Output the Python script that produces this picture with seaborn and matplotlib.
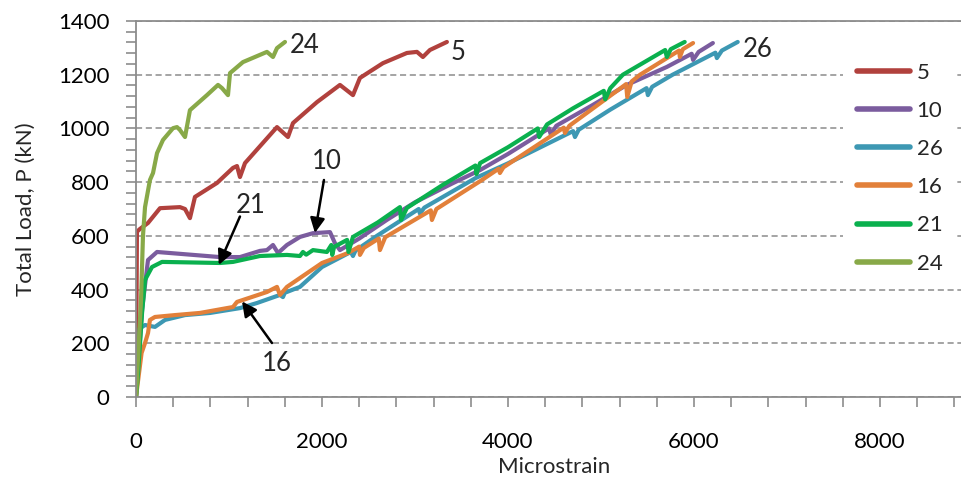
import matplotlib
matplotlib.use("Agg")
import matplotlib.pyplot as plt
from matplotlib.ticker import MultipleLocator
import numpy as np
import pandas as pd
import seaborn as sns

# ---- load-strain readings per gauge (microstrain, kN) ----
g5_strain = [0, 10, 40, 129, 258, 473, 527, 580, 634, 871, 1043, 1086, 1118, 1172, 1516, 1634, 1688,
             1946, 2193, 2333, 2408, 2655, 2913, 3021, 3085, 3160, 3343]
g5_load = [0, 615, 625, 648, 703, 707, 700, 666, 745, 797, 853, 860, 819, 871, 1005, 968, 1020,
           1098, 1162, 1124, 1188, 1243, 1281, 1285, 1266, 1292, 1322]

g10_strain = [0, 30, 65, 129, 226, 903, 1118, 1333, 1408, 1473, 1527, 1623, 1763, 1903, 2086, 2139,
              2193, 2400, 2700, 3000, 3400, 3700, 4000, 4440, 4460, 4520, 4900, 5278, 5708,
              5975, 5990, 6050, 6203]
g10_load = [0, 150, 324, 510, 540, 521, 521, 544, 547, 566, 536, 566, 596, 610, 614, 573,
            547, 590, 660, 725, 795, 845, 905, 1000, 978, 1010, 1085, 1162, 1229,
            1278, 1255, 1285, 1318]

g26_strain = [0, 20, 40, 97, 204, 312, 527, 796, 1118, 1301, 1548, 1580, 1600, 1763, 2000, 2310,
              2333, 2360, 2590, 3040, 3053, 3100, 3650, 4000, 4700, 4720, 4760, 5100, 5490, 5504,
              5550, 5770, 6230, 6246, 6300, 6470]
g26_load = [0, 120, 255, 268, 261, 287, 305, 313, 331, 350, 380, 372, 388, 410, 484, 540,
            525, 545, 600, 700, 683, 705, 815, 870, 990, 968, 995, 1070, 1150, 1124,
            1155, 1200, 1282, 1262, 1290, 1322]

g16_strain = [0, 60, 97, 129, 150, 204, 419, 688, 978, 1043, 1086, 1408, 1516, 1548, 1623, 2000,
              2279, 2400, 2408, 2450, 2610, 2623, 2680, 3170, 3182, 3230, 3720, 3900, 3913,
              3950, 4600, 4612, 4660, 5270, 5282, 5330, 5420, 5840, 5848, 5880, 5990]
g16_load = [0, 164, 201, 238, 287, 298, 305, 313, 331, 335, 354, 391, 410, 380, 410, 499,
            536, 560, 529, 555, 590, 547, 595, 695, 659, 700, 808, 850, 834,
            855, 1003, 983, 1010, 1165, 1117, 1175, 1200, 1290, 1266, 1295, 1318]

g21_strain = [0, 22, 65, 97, 172, 280, 903, 1043, 1333, 1623, 1763, 1795, 1830, 1903, 2053, 2100,
              2110, 2130, 2270, 2285, 2333, 2600, 2838, 2850, 2913, 3300, 3650, 3660, 3700,
              4000, 4320, 4335, 4420, 4700, 5030, 5045, 5100, 5235, 5690, 5708, 5750, 5900]
g21_load = [0, 89, 313, 436, 484, 503, 499, 503, 525, 529, 525, 540, 530, 547, 540, 566,
            529, 559, 585, 540, 596, 650, 707, 659, 704, 790, 862, 830, 871,
            930, 1000, 968, 1015, 1075, 1140, 1108, 1150, 1200, 1292, 1266, 1295, 1322]

g24_strain = [0, 30, 54, 75, 97, 150, 183, 226, 290, 398, 441, 473, 527, 580, 763, 882, 925,
              989, 1011, 1150, 1408, 1473, 1516, 1602]
g24_load = [0, 200, 361, 600, 707, 808, 834, 908, 957, 1001, 1005, 994, 968, 1068, 1124, 1162, 1150,
            1124, 1206, 1247, 1285, 1266, 1299, 1322]

gauges = ["5", "10", "26", "16", "21", "24"]
colors = ["#B1413D", "#7B5C9E", "#3D98B3", "#E2803A", "#0AB04E", "#88A948"]

series = {
    "5": (g5_strain, g5_load),
    "10": (g10_strain, g10_load),
    "26": (g26_strain, g26_load),
    "16": (g16_strain, g16_load),
    "21": (g21_strain, g21_load),
    "24": (g24_strain, g24_load),
}

frames = []
for name in gauges:
    xs, ys = series[name]
    frames.append(pd.DataFrame({"strain": xs, "load": ys, "gauge": name}))
df = pd.concat(frames, ignore_index=True)

sns.set_style("white")
plt.rcParams["font.family"] = ["Lato", "DejaVu Sans"]

fig = plt.figure(figsize=(9.61, 4.83), dpi=100)
ax = fig.add_axes([136 / 961, 86 / 483, 837 / 961, 376 / 483])

grid_gray = "#8C8C8C"
ax.set_axisbelow(True)
ax.yaxis.grid(True, linestyle=(0, (4, 2.4)), color=grid_gray, linewidth=1.1)
ax.xaxis.grid(False)

sns.lineplot(data=df, x="strain", y="load", hue="gauge", hue_order=gauges,
             palette=dict(zip(gauges, colors)), sort=False, estimator=None,
             units="gauge", linewidth=3.0, ax=ax, legend=True)
for line in ax.get_lines():
    line.set_solid_joinstyle("round")
    line.set_solid_capstyle("round")

ax.set_xlim(0, 9000)
ax.set_ylim(0, 1400)
ax.xaxis.set_major_locator(MultipleLocator(2000))
ax.xaxis.set_minor_locator(MultipleLocator(400))
ax.yaxis.set_major_locator(MultipleLocator(200))
ax.yaxis.set_minor_locator(MultipleLocator(40))

for side in ["left", "bottom", "top"]:
    ax.spines[side].set_visible(True)
    ax.spines[side].set_color(grid_gray)
    ax.spines[side].set_linewidth(1.3)
ax.spines["right"].set_visible(False)

ax.tick_params(axis="both", which="both", direction="out", color=grid_gray,
               width=1.2, length=7, labelsize=16, labelcolor="black")
ax.tick_params(axis="x", which="both", pad=18, bottom=True)
ax.tick_params(axis="y", which="both", pad=12, left=True)

ax.set_xlabel("Microstrain", fontsize=16, labelpad=4)
ax.set_ylabel("Total Load, P (kN)", fontsize=16, labelpad=16)

handles, labels = ax.get_legend_handles_labels()
leg = ax.legend(handles, labels, loc="upper left", bbox_to_anchor=(0.845, 0.925),
                frameon=True, fontsize=16, handlelength=2.4, handletextpad=0.3,
                labelspacing=0.82, borderpad=0.6, borderaxespad=0)
leg.get_frame().set_facecolor("white")
leg.get_frame().set_edgecolor("none")
leg.get_frame().set_alpha(1)
for line in leg.get_lines():
    line.set_linewidth(4)
    line.set_solid_capstyle("round")

# curve labels
ax.text(1650, 1307, "24", fontsize=18.5, ha="left", va="center")
ax.text(3380, 1282, "5", fontsize=18.5, ha="left", va="center")
ax.text(6520, 1294, "26", fontsize=18.5, ha="left", va="center")
ax.text(2050, 877, "10", fontsize=18.5, ha="center", va="center")
ax.text(1230, 713, "21", fontsize=18.5, ha="center", va="center")
ax.text(1516, 123, "16", fontsize=18.5, ha="center", va="center")

arrow = dict(arrowstyle="-|>", color="black", lw=1.8, mutation_scale=22, shrinkA=0, shrinkB=0)
ax.annotate("", xy=(1924, 611), xytext=(2021, 808), arrowprops=arrow)
ax.annotate("", xy=(890, 492), xytext=(1118, 672), arrowprops=arrow)
ax.annotate("", xy=(1140, 356), xytext=(1462, 201), arrowprops=arrow)

fig.savefig("out.png", dpi=100)
